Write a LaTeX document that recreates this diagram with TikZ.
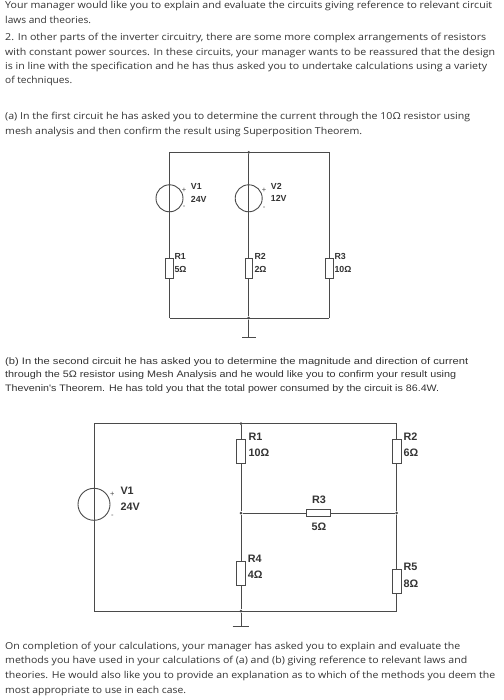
\documentclass[tikz,border=0pt]{standalone}
\usepackage{fontspec}
\setmainfont{Open Sans}
\newfontfamily\arialfont{Liberation Sans}
\definecolor{inktext}{HTML}{333333}
\definecolor{wirecol}{HTML}{4A4A4A}
\newsavebox{\linebox}
\newcommand{\fitline}[2]{\sbox{\linebox}{#2}\pgfmathsetmacro{\fitx}{#1/(\wd\linebox/1pt)}\scalebox{\fitx}[1]{\usebox{\linebox}}}
\newcommand{\bodyline}[5][]{\node[bodytext,#1] (#2) at (5,#3) {\fitline{#4}{#5}};}
\tikzset{
  bodytext/.style={anchor=base west,inner sep=0pt,text=inktext,font=\fontsize{9.6}{11}\selectfont},
  arialtext/.style={bodytext,font=\arialfont\fontsize{9.4}{11}\selectfont},
  wire/.style={draw=wirecol,line width=1pt},
  vres/.style={rectangle,draw=wirecol,fill=white,line width=0.8pt,inner sep=0pt,minimum width=7.6pt,minimum height=20pt},
  vresb/.style={vres,minimum width=8.6pt,minimum height=24pt},
  hresb/.style={rectangle,draw=wirecol,fill=white,line width=0.8pt,inner sep=0pt,minimum width=24pt,minimum height=7.6pt},
  srca/.style={circle,draw=wirecol,line width=0.9pt,inner sep=0pt,minimum size=27pt},
  srcb/.style={circle,draw=wirecol,line width=0.9pt,inner sep=0pt,minimum size=32pt},
  dot/.style={circle,fill=wirecol,inner sep=0pt,minimum size=3pt},
  lbla/.style={anchor=west,inner sep=0pt,text=inktext,font=\arialfont\bfseries\fontsize{8.8}{10}\selectfont},
  lblb/.style={anchor=west,inner sep=0pt,text=inktext,font=\arialfont\bfseries\fontsize{10.8}{12}\selectfont},
  sign/.style={anchor=center,inner sep=0pt,text=wirecol,font=\arialfont\fontsize{7.5}{8}\selectfont},
}
\begin{document}
\begin{tikzpicture}[x=1pt,y=-1pt]
\useasboundingbox (0,0) rectangle (503,700);
% text
\bodyline{t1}{9}{487}{Your manager would like you to explain and evaluate the circuits giving reference to relevant circuit}
\bodyline{t2}{23.5}{86}{laws and theories.}
\bodyline{t3}{41}{481}{2. In other parts of the inverter circuitry, there are some more complex arrangements of resistors}
\bodyline{t4}{55.5}{490}{with constant power sources. In these circuits, your manager wants to be reassured that the design}
\bodyline{t5}{69.5}{482}{is in line with the specification and he has thus asked you to undertake calculations using a variety}
\bodyline{t6}{84}{67}{of techniques.}
\bodyline{t7}{120}{465}{(a) In the first circuit he has asked you to determine the current through the 10Ω resistor using}
\bodyline{t8}{134.5}{357}{mesh analysis and then confirm the result using Superposition Theorem.}
\bodyline[arialtext]{t9}{364}{463}{(b) In the second circuit he has asked you to determine the magnitude and direction of current}
\bodyline[arialtext]{t10}{377.5}{451}{through the 5Ω resistor using Mesh Analysis and he would like you to confirm your result using}
\bodyline[arialtext]{t11}{391}{434}{Thevenin's Theorem. He has told you that the total power consumed by the circuit is 86.4W.}
\bodyline{t12}{649}{455}{On completion of your calculations, your manager has asked you to explain and evaluate the}
\bodyline{t13}{663.5}{462}{methods you have used in your calculations of (a) and (b) giving reference to relevant laws and}
\bodyline{t14}{678}{490}{theories. He would also like you to provide an explanation as to which of the methods you deem the}
\bodyline{t15}{693}{181}{most appropriate to use in each case.}
% circuit a
\coordinate (atl) at (169.5,152.3);
\coordinate (atr) at (329.3,152.3);
\coordinate (abl) at (169.5,318);
\coordinate (abr) at (329.3,318);
\node[dot] (atm) at (248.7,152.3) {};
\node[dot] (abm) at (248.7,318) {};
\node[srca] (av1) at (169.5,198.3) {};
\node[srca] (av2) at (248.7,198.3) {};
\node[vres] (ar1) at (169.5,268.3) {};
\node[vres] (ar2) at (248.7,268.3) {};
\node[vres] (ar3) at (329.3,268.3) {};
\coordinate (agnd) at (248.7,337.7);
\coordinate (agl) at (242,337.7);
\coordinate (agr) at (256,337.7);
\draw[wire] (atl) -- (atr) (abl) -- (abr);
\draw[wire] (atl) -- (ar1.north);
\draw[wire] (ar1.south) -- (abl);
\draw[wire] (atm) -- (ar2.north);
\draw[wire] (ar2.south) -- (abm) -- (agnd);
\draw[wire] (atr) -- (ar3.north);
\draw[wire] (ar3.south) -- (abr);
\draw[wire,line width=1.3pt] (agl) -- (agr);
\node[lbla] (lav1) at (190.7,186) {V1};
\node[lbla] (lav1v) at (190.7,199.5) {24V};
\node[lbla] (lav2) at (270.7,186) {V2};
\node[lbla] (lav2v) at (270.7,198) {12V};
\node[sign] (sa1p) at (184,190) {+};
\node[sign] (sa1m) at (184,207) {-};
\node[sign] (sa2p) at (264,190) {+};
\node[sign] (sa2m) at (264,208) {-};
\node[lbla] (lar1) at (174.3,256) {R1};
\node[lbla] (lar1v) at (174.3,269) {5Ω};
\node[lbla] (lar2) at (254.3,256) {R2};
\node[lbla] (lar2v) at (254.3,269) {2Ω};
\node[lbla] (lar3) at (334.3,256) {R3};
\node[lbla] (lar3v) at (334.3,269) {10Ω};
% circuit b
\coordinate (btl) at (94,423.7);
\coordinate (btr) at (396.7,423.7);
\coordinate (bbl) at (94,611);
\coordinate (bbr) at (396.7,611);
\node[dot] (btm) at (241,423.7) {};
\node[dot] (bbm) at (241,611) {};
\node[dot] (bml) at (241,513) {};
\node[dot] (bmr) at (396.7,513) {};
\node[srcb] (bv1) at (94,504.3) {};
\node[vresb] (br1) at (241,451.3) {};
\node[vresb] (br2) at (396.7,451.3) {};
\node[hresb] (br3) at (318.7,513) {};
\node[vresb] (br4) at (241,573.7) {};
\node[vresb] (br5) at (396.7,581.7) {};
\coordinate (bgnd) at (241,626.7);
\coordinate (bgl) at (232.7,626.7);
\coordinate (bgr) at (249,626.7);
\draw[wire] (btl) -- (btr) (bbl) -- (bbr);
\draw[wire] (btl) -- (bbl);
\draw[wire] (btm) -- (br1.north);
\draw[wire] (br1.south) -- (bml) -- (br4.north);
\draw[wire] (br4.south) -- (bbm) -- (bgnd);
\draw[wire] (btr) -- (br2.north);
\draw[wire] (br2.south) -- (bmr) -- (br5.north);
\draw[wire] (br5.south) -- (bbr);
\draw[wire] (bml) -- (br3.west);
\draw[wire] (br3.east) -- (bmr);
\draw[wire,line width=1.3pt] (bgl) -- (bgr);
\node[lblb] (lbv1) at (120.3,490.7) {V1};
\node[lblb] (lbv1v) at (120.3,506.7) {24V};
\node[sign] (sb1p) at (112.3,494) {+};
\node[sign] (sb1m) at (112.3,516) {-};
\node[lblb] (lbr1) at (248.3,437) {R1};
\node[lblb] (lbr1v) at (248.3,452.7) {10Ω};
\node[lblb] (lbr2) at (403.3,437) {R2};
\node[lblb] (lbr2v) at (403.3,452.7) {6Ω};
\node[lblb,anchor=center] (lbr3) at (319,499.7) {R3};
\node[lblb,anchor=center] (lbr3v) at (319,526.7) {5Ω};
\node[lblb] (lbr4) at (247.7,559) {R4};
\node[lblb] (lbr4v) at (247.7,575) {4Ω};
\node[lblb] (lbr5) at (403.3,567) {R5};
\node[lblb] (lbr5v) at (403.3,583.3) {8Ω};
\end{tikzpicture}
\end{document}
